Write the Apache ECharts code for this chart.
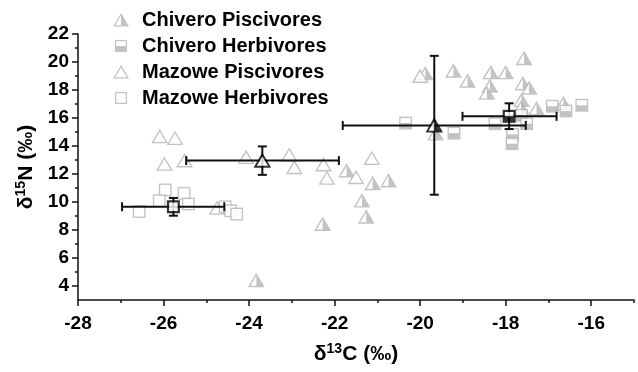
<!DOCTYPE html>
<html>
<head>
<meta charset="utf-8">
<script src="https://cdn.jsdelivr.net/npm/echarts@6/dist/echarts.min.js"></script>
<style>
  html, body { margin: 0; padding: 0; background: #fff; }
  #chart { width: 638px; height: 372px; }
</style>
</head>
<body>
<div id="chart"></div>
<script>
// isotope values: [d13C, d15N]
const chiveroPiscivores = [
  [-21.72, 12.24], [-21.11, 11.33], [-20.74, 11.53], [-21.36, 10.09], [-21.26, 8.94],
  [-22.28, 8.42], [-23.83, 4.40], [-19.88, 19.18], [-19.22, 19.37], [-18.89, 18.65],
  [-18.35, 19.25], [-18.0, 19.25], [-17.57, 20.26], [-18.37, 18.29], [-18.44, 17.79],
  [-17.6, 18.46], [-17.45, 18.15], [-17.63, 17.27], [-17.28, 16.67], [-16.65, 17.03],
  [-17.64, 16.74], [-19.64, 14.88]
];
const chiveroHerbivores = [
  [-20.34, 15.64], [-19.21, 14.92], [-18.25, 15.59], [-16.91, 16.84], [-16.59, 16.5],
  [-16.22, 16.91], [-17.84, 14.83], [-17.85, 14.16], [-17.63, 16.19], [-17.51, 15.59]
];
const mazowePiscivores = [
  [-26.09, 14.68], [-25.73, 14.56], [-25.98, 12.72], [-25.51, 12.96], [-24.07, 13.2],
  [-23.06, 13.37], [-22.94, 12.48], [-22.26, 12.67], [-22.18, 11.72], [-24.75, 9.57],
  [-21.13, 13.13], [-21.5, 11.76], [-20.0, 18.99]
];
const mazoweHerbivores = [
  [-25.96, 10.86], [-26.1, 10.09], [-25.52, 10.62], [-25.42, 9.86], [-26.57, 9.32],
  [-24.56, 9.66], [-24.43, 9.37], [-24.29, 9.14]
];

// group means: [x, y, xLow, xHigh, yLow, yHigh]
const meanChiveroPisc = [-19.67, 15.47, -21.81, -17.53, 10.52, 20.44];
const meanChiveroHerb = [-17.92, 16.12, -19.01, -16.81, 15.21, 17.05];
const meanMazowePisc = [-23.69, 12.96, -25.47, -21.9, 11.94, 13.97];
const meanMazoweHerb = [-25.77, 9.66, -26.97, -24.58, 9.02, 10.29];

const xMajor = [-28, -26, -24, -22, -20, -18, -16];
const xMinor = [-27, -25, -23, -21, -19, -17, -15];
const yMajor = [4, 6, 8, 10, 12, 14, 16, 18, 20, 22];
const yMinor = [5, 7, 9, 11, 13, 15, 17, 19, 21];

const seriesNames = ['Chivero Piscivores', 'Chivero Herbivores', 'Mazowe Piscivores', 'Mazowe Herbivores'];

function svgSymbol(body) {
  const svg = '<svg xmlns="http://www.w3.org/2000/svg" width="32" height="32" viewBox="0 0 16 16">' + body + '</svg>';
  return 'image://data:image/svg+xml;charset=utf-8,' + encodeURIComponent(svg);
}

const grey = '#b5b5b5';
const triHalf = (c, w) => svgSymbol(
  '<polygon points="8,2.2 14.8,13.8 1.2,13.8" fill="#fff" stroke="' + c + '" stroke-width="' + w + '" stroke-linejoin="miter"/>' +
  '<polygon points="8,2.2 14.8,13.8 8,13.8" fill="' + c + '"/>');
const triOpen = (c, w) => svgSymbol(
  '<polygon points="8,2.2 14.8,13.8 1.2,13.8" fill="#fff" stroke="' + c + '" stroke-width="' + w + '"/>');
const sqHalf = (c, w) => svgSymbol(
  '<rect x="2.6" y="2.6" width="10.8" height="10.8" fill="#fff" stroke="' + c + '" stroke-width="' + w + '"/>' +
  '<rect x="2.6" y="8" width="10.8" height="5.4" fill="' + c + '"/>');
const sqOpen = (c, w) => svgSymbol(
  '<rect x="2.6" y="2.6" width="10.8" height="10.8" fill="#fff" stroke="' + c + '" stroke-width="' + w + '"/>');

const font = 'Liberation Sans, Arial, sans-serif';

function errorBars() {
  return {
    type: 'custom',
    z: 5,
    silent: true,
    data: [meanChiveroPisc, meanChiveroHerb, meanMazowePisc, meanMazoweHerb],
    renderItem: function (params, api) {
      const c = api.coord([api.value(0), api.value(1)]);
      const l = api.coord([api.value(2), api.value(1)]);
      const r = api.coord([api.value(3), api.value(1)]);
      const b = api.coord([api.value(0), api.value(4)]);
      const t = api.coord([api.value(0), api.value(5)]);
      const cap = 4.5;
      const st = { stroke: '#111', lineWidth: 2 };
      const seg = (x1, y1, x2, y2) => ({ type: 'line', shape: { x1, y1, x2, y2 }, style: st });
      return {
        type: 'group',
        children: [
          seg(l[0], c[1], r[0], c[1]),
          seg(l[0], c[1] - cap, l[0], c[1] + cap),
          seg(r[0], c[1] - cap, r[0], c[1] + cap),
          seg(c[0], b[1], c[0], t[1]),
          seg(c[0] - cap, b[1], c[0] + cap, b[1]),
          seg(c[0] - cap, t[1], c[0] + cap, t[1])
        ]
      };
    }
  };
}

function meanPoint(m, symbol, size) {
  return {
    type: 'scatter', z: 6, silent: true,
    symbol: symbol, symbolSize: size,
    data: [[m[0], m[1]]]
  };
}

const chart = echarts.init(document.getElementById('chart'), null, { renderer: 'canvas' });

const axisText = { fontFamily: font, fontWeight: 'bold', fontSize: 19, color: '#000' };
const titleText = { fontFamily: font, fontWeight: 'bold', fontSize: 21, color: '#000' };
const supStyle = { sup: { fontFamily: font, fontWeight: 'bold', fontSize: 14, padding: [0, 0, 10, 0] } };

chart.setOption({
  animation: false,
  grid: { left: 78, right: 4, top: 34, bottom: 72 },
  legend: {
    orient: 'vertical',
    left: 108, top: 5,
    itemWidth: 16, itemHeight: 16,
    itemGap: 6,
    data: seriesNames,
    textStyle: { fontFamily: font, fontWeight: 'bold', fontSize: 20, color: '#000', padding: [0, 0, 0, 8], lineHeight: 20 }
  },
  xAxis: [
    {
      type: 'value', min: -28, max: -15,
      axisLine: { onZero: false, lineStyle: { color: '#111', width: 1.5 } },
      axisTick: { customValues: xMajor, length: 6, lineStyle: { color: '#111', width: 1.5 } },
      axisLabel: Object.assign({ customValues: xMajor, margin: 14 }, axisText),
      splitLine: { show: false },
      name: 'δ{sup|13}C (‰)',
      nameLocation: 'middle', nameGap: 42,
      nameTextStyle: Object.assign({ rich: supStyle }, titleText)
    },
    {
      type: 'value', min: -28, max: -15, position: 'bottom',
      axisLine: { show: false, onZero: false },
      axisTick: { customValues: xMinor, length: 3, lineStyle: { color: '#111', width: 1.5 } },
      axisLabel: { show: false },
      splitLine: { show: false }
    }
  ],
  yAxis: [
    {
      type: 'value', min: 3, max: 22,
      axisLine: { onZero: false, lineStyle: { color: '#111', width: 1.5 } },
      axisTick: { customValues: yMajor, length: 6, lineStyle: { color: '#111', width: 1.5 } },
      axisLabel: Object.assign({ customValues: yMajor, margin: 9 }, axisText),
      splitLine: { show: false },
      name: 'δ{sup|15}N (‰)',
      nameLocation: 'middle', nameGap: 35, nameRotate: 90,
      nameTextStyle: Object.assign({ rich: supStyle }, titleText)
    },
    {
      type: 'value', min: 3, max: 22, position: 'left',
      axisLine: { show: false, onZero: false },
      axisTick: { customValues: yMinor, length: 3, lineStyle: { color: '#111', width: 1.5 } },
      axisLabel: { show: false },
      splitLine: { show: false }
    }
  ],
  series: [
    { name: seriesNames[0], type: 'scatter', z: 2, symbol: triHalf(grey, 1.3), symbolSize: 17, data: chiveroPiscivores },
    { name: seriesNames[1], type: 'scatter', z: 2, symbol: sqHalf(grey, 1.3), symbolSize: 17, data: chiveroHerbivores },
    { name: seriesNames[2], type: 'scatter', z: 2, symbol: triOpen(grey, 1.3), symbolSize: 17, data: mazowePiscivores },
    { name: seriesNames[3], type: 'scatter', z: 2, symbol: sqOpen(grey, 1.3), symbolSize: 17, data: mazoweHerbivores },
    errorBars(),
    meanPoint(meanChiveroPisc, triHalf('#000', 1.8), 17),
    meanPoint(meanChiveroHerb, sqHalf('#000', 2.2), 16),
    meanPoint(meanMazowePisc, triOpen('#000', 1.8), 17),
    meanPoint(meanMazoweHerb, sqOpen('#000', 2.2), 16)
  ]
});
</script>
</body>
</html>
